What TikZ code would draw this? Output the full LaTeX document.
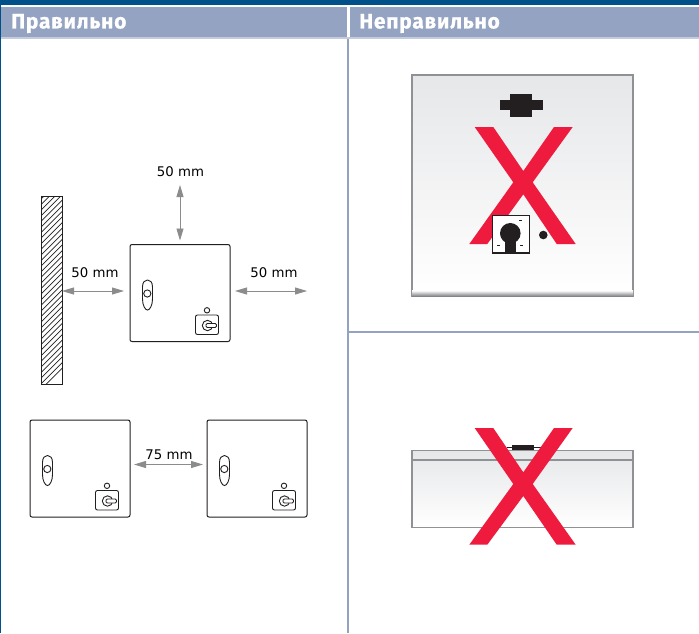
\documentclass[tikz,border=0pt]{standalone}
\usepackage{fontspec}
\setmainfont{DejaVu Sans}
\newfontfamily\headfont{Fira Sans}[UprightFont=* Bold,LetterSpace=3.5,FakeBold=0.6]
\usetikzlibrary{arrows.meta}
\definecolor{topblue}{HTML}{00508A}
\definecolor{band}{HTML}{95A3C2}
\definecolor{bandlight}{HTML}{C3CBDD}
\definecolor{panelgrey}{HTML}{E6E7E9}
\definecolor{edgegrey}{HTML}{8F9195}
\definecolor{banddark}{HTML}{77797D}
\definecolor{crossred}{HTML}{EF1B3E}
\definecolor{inkblack}{HTML}{231F20}
\definecolor{dimgrey}{HTML}{8C8C8C}
\tikzset{
  x=1pt,y=-1pt,
  headtext/.style={text=white,font=\headfont\fontsize{21}{21}\selectfont,anchor=west,inner sep=0pt},
  dimtext/.style={text=black,font=\fontsize{13.3}{14}\selectfont,inner sep=0pt},
  dimline/.style={draw=dimgrey,line width=0.9pt,{Triangle[length=12pt,width=7pt]}-{Triangle[length=12pt,width=7pt]}},
  cabbox/.style={draw=inkblack,line width=1pt,rounded corners=2pt,minimum width=100pt,minimum height=97pt,inner sep=0pt,outer sep=0pt},
  wallbox/.style={draw=inkblack,line width=1pt,minimum width=21pt,minimum height=188pt,inner sep=0pt,outer sep=0pt},
  panel/.style={draw=edgegrey,line width=1.4pt,top color=panelgrey,bottom color=white,inner sep=0pt,outer sep=0pt},
  cross/.style={fill=crossred,draw=none},
  cabinetparts/.pic={
    \draw[inkblack,line width=0.9pt,fill=white] (-32.5,-13) .. controls (-35,-13) and (-37.5,-11) .. (-37.5,-6) -- (-37.5,6) .. controls (-37.5,12) and (-35,17) .. (-32.5,17) .. controls (-30,17) and (-27.5,12) .. (-27.5,6) -- (-27.5,-6) .. controls (-27.5,-11) and (-30,-13) .. (-32.5,-13) -- cycle;
    \draw[inkblack,line width=0.9pt,fill=white] (-32.7,0.5) circle[radius=3.6];
    \draw[inkblack,line width=0.9pt] (27,17.3) circle[radius=2.7];
    \draw[inkblack,line width=0.9pt,fill=white,rounded corners=2pt] (15.5,22) rectangle (38.5,41.5);
    \draw[inkblack,line width=0.9pt] (27.5,32.5) circle[radius=5.2];
    \draw[inkblack,line width=0.9pt,fill=white,rounded corners=1.2pt] (26,30.5) rectangle (36.5,34.5);
  }
}
\begin{document}
\begin{tikzpicture}
\useasboundingbox (0,0) rectangle (699,633);
\fill[white] (0,0) rectangle (699,633);
% header
\fill[topblue] (0,0) rectangle (699,5);
\fill[topblue] (0,5) rectangle (1,633);
\fill[band] (1,7) rectangle (347,37);
\fill[band] (349.5,7) rectangle (699,37);
\fill[bandlight] (1,37) rectangle (699,38.5);
\fill[band] (347.3,39) rectangle (349.3,633);
\fill[band] (349,331.2) rectangle (699,333.2);
\node[headtext] (headok) at (11,23.5) {Правильно};
\node[headtext] (headbad) at (359,23.5) {Неправильно};
% wrong panel 1
\node[panel,minimum width=221pt,minimum height=221pt] (panelA) at (522.5,185.5) {};
\fill[top color=white,bottom color=banddark] (412,290.5) rectangle (633,296.5);
\fill[inkblack] (500,100) rectangle (543,109.7);
\fill[inkblack] (510,94) rectangle (532,117);
\fill[cross] (474.7,127) -- (493.3,127) -- (523.3,171) -- (554,127) -- (572.7,127) -- (532.7,182.3) -- (575.7,244) -- (556.7,244) -- (523.3,194.3) -- (487.3,244) -- (469.3,244) -- (513.3,182.3) -- cycle;
\draw[inkblack,line width=1.1pt,fill=white] (492.2,215.5) rectangle (529.5,253);
\fill[inkblack] (510.3,233.3) circle[radius=10.3];
\fill[inkblack] (505,238) rectangle (515.7,253);
\fill[inkblack] (543.3,235) circle[radius=4.3];
\fill[inkblack] (519,220) rectangle (522,220.7);
\fill[inkblack] (497,244.5) rectangle (500,245.2);
\fill[inkblack] (520,244.5) rectangle (523,245.2);
% wrong panel 2
\draw[inkblack,line width=1.6pt] (506.7,447.5) -- (541.7,447.5);
\fill[inkblack] (512,445) rectangle (534,450.5);
\node[panel,minimum width=221pt,minimum height=77pt] (panelB) at (522.5,489) {};
\draw[edgegrey,line width=1.2pt] (412,460) -- (633,460);
\fill[cross] (474.7,428) -- (493.3,428) -- (523.3,472.3) -- (554,428) -- (572.7,428) -- (532.7,484) -- (575.7,544.7) -- (556.7,544.7) -- (523.3,496) -- (487.3,544.7) -- (469.3,544.7) -- (513.3,484) -- cycle;
% wall
\node[wallbox] (wall) at (51.5,290) {};
\begin{scope}
\clip (41,196) rectangle (62,384);
\foreach \k in {0,...,34}{
  \draw[inkblack,line width=0.7pt] (40,{200+\k*5.6}) -- (63,{200+\k*5.6-23});
}
\end{scope}
\draw[inkblack,line width=1pt] (wall.south west) rectangle (wall.north east);
% cabinets
\node[cabbox] (cabA) at (180,293) {};
\pic at (cabA) {cabinetparts};
\node[cabbox] (cabB) at (80,468.5) {};
\pic at (cabB) {cabinetparts};
\node[cabbox] (cabC) at (257,468.5) {};
\pic at (cabC) {cabinetparts};
% dimension arrows
\coordinate (topfree) at (180,185);
\coordinate (rightfree) at (307,291);
\draw[dimline,shorten >=4pt] (topfree) -- (cabA.north);
\draw[dimline,shorten >=6pt] ([yshift=-1pt]wall.east) -- ([yshift=2pt]cabA.west);
\draw[dimline,shorten <=5pt] ([yshift=2pt]cabA.east) -- (rightfree);
\draw[dimline,shorten <=4pt,shorten >=4pt] ([yshift=4pt]cabB.east) -- ([yshift=4pt]cabC.west);
% labels
\node[dimtext] (lblTop) at (180.5,172) {50 mm};
\node[dimtext] (lblLeft) at (95,273) {50 mm};
\node[dimtext] (lblRight) at (274,273) {50 mm};
\node[dimtext] (lblGap) at (169,455) {75 mm};
\end{tikzpicture}
\end{document}
